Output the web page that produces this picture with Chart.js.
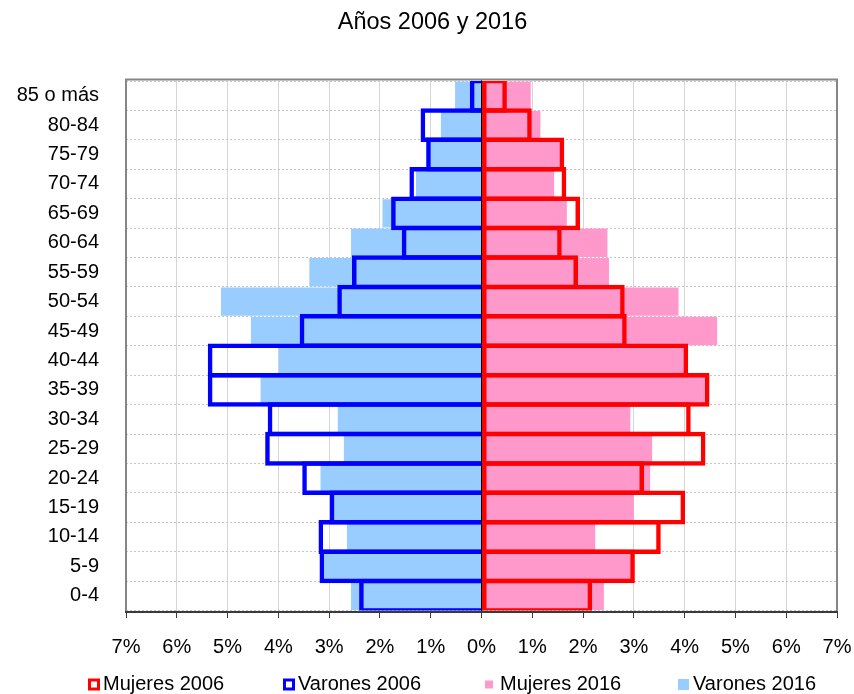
<!DOCTYPE html>
<html>
<head>
<meta charset="utf-8">
<script src="https://cdn.jsdelivr.net/npm/chart.js@4/dist/chart.umd.min.js"></script>
<style>
  html, body { margin: 0; padding: 0; background: #ffffff; }
  #wrap { width: 854px; height: 694px; }
</style>
</head>
<body>
<div id="wrap"><canvas id="c" width="854" height="694"></canvas></div>
<script>
// ---- data (percent of population), top row first ----
const categories = ["85 o más","80-84","75-79","70-74","65-69","60-64","55-59","50-54","45-49","40-44","35-39","30-34","25-29","20-24","15-19","10-14","5-9","0-4"];
const mujeres2006 = [0.50, 0.99, 1.63, 1.67, 1.94, 1.58, 1.90, 2.82, 2.86, 4.07, 4.49, 4.12, 4.41, 3.20, 4.01, 3.53, 3.02, 2.18];
const varones2006 = [-0.23, -1.20, -1.09, -1.42, -1.78, -1.57, -2.55, -2.84, -3.58, -5.39, -5.39, -4.21, -4.26, -3.53, -2.99, -3.21, -3.19, -2.41];
const mujeres2016 = [0.97, 1.16, 1.58, 1.43, 1.68, 2.48, 2.51, 3.88, 4.64, 3.99, 4.44, 2.93, 3.36, 3.32, 3.00, 2.24, 2.94, 2.41];
const varones2016 = [-0.52, -0.80, -1.05, -1.29, -1.95, -2.57, -3.39, -5.13, -4.54, -3.99, -4.35, -2.83, -2.71, -3.17, -2.94, -2.65, -3.15, -2.57];
const xTickMin = -7;
const xTickMax = 7;
const titleText = "Años 2006 y 2016";

const FONT = "'Liberation Sans', Arial, sans-serif";
Chart.defaults.font.family = FONT;

const OUTLINE_W = 4.5;
const outlinePct = 1 + OUTLINE_W / 29.4;

const datasets = [
  { label: "Mujeres 2006", data: mujeres2006, backgroundColor: "rgba(0,0,0,0)", borderColor: "#FF0000",
    borderWidth: OUTLINE_W, borderSkipped: false, grouped: false, order: 0,
    barPercentage: outlinePct, categoryPercentage: 1, _legend: {hollow: true, size: 12} },
  { label: "Varones 2006", data: varones2006, backgroundColor: "rgba(0,0,0,0)", borderColor: "#0000FF",
    borderWidth: OUTLINE_W, borderSkipped: 'start', grouped: false, order: 0,
    barPercentage: outlinePct, categoryPercentage: 1, _legend: {hollow: true, size: 12} },
  { label: "Mujeres 2016", data: mujeres2016, backgroundColor: "#FF99CC", borderWidth: 0,
    grouped: false, order: 1, barPercentage: 0.965, categoryPercentage: 1, _legend: {hollow: false, size: 8} },
  { label: "Varones 2016", data: varones2016, backgroundColor: "#99CCFF", borderWidth: 0,
    grouped: false, order: 1, barPercentage: 0.965, categoryPercentage: 1, _legend: {hollow: false, size: 11} }
];

const LEGEND_X = [88, 283, 485, 678];

const decor = {
  id: 'decor',
  afterDatasetsDraw(chart) {
    const ctx = chart.ctx;
    const a = chart.chartArea;
    const x0 = chart.scales.x.getPixelForValue(0);
    ctx.save();
    // zero line
    ctx.strokeStyle = '#000000';
    ctx.lineWidth = 1;
    ctx.beginPath();
    ctx.moveTo(Math.round(x0) - 0.5, a.top - 2);
    ctx.lineTo(Math.round(x0) - 0.5, a.bottom + 1.5);
    ctx.stroke();
    // plot frame
    const top = a.top - 1.5, bottom = a.bottom + 1.5;
    ctx.strokeStyle = '#868686';
    ctx.lineWidth = 2;
    ctx.beginPath();
    ctx.moveTo(a.left, bottom);
    ctx.lineTo(a.left, top);
    ctx.lineTo(a.right, top);
    ctx.lineTo(a.right, bottom);
    ctx.stroke();
    ctx.strokeStyle = '#3a3a3a';
    ctx.beginPath();
    ctx.moveTo(a.left - 1, bottom);
    ctx.lineTo(a.right + 1, bottom);
    ctx.stroke();
    ctx.restore();
  },
  afterDraw(chart) {
    const ctx = chart.ctx;
    ctx.save();
    // title
    ctx.fillStyle = '#000000';
    ctx.font = "23.5px " + FONT;
    ctx.textAlign = 'center';
    ctx.textBaseline = 'middle';
    ctx.fillText(titleText, 432.5, 23);
    // legend
    ctx.font = "20px " + FONT;
    ctx.textAlign = 'left';
    const ly = 684.5;
    chart.data.datasets.forEach((ds, i) => {
      const x = LEGEND_X[i];
      const s = ds._legend.size;
      if (ds._legend.hollow) {
        ctx.strokeStyle = ds.borderColor;
        ctx.lineWidth = 3;
        ctx.strokeRect(x + 1.5, ly - s / 2 + 1.5, s - 3, s - 3);
      } else {
        ctx.fillStyle = ds.backgroundColor;
        ctx.fillRect(x, ly - s / 2, s, s);
      }
      ctx.fillStyle = '#000000';
      ctx.fillText(ds.label, x + 15, ly);
    });
    ctx.restore();
  }
};

new Chart(document.getElementById('c'), {
  type: 'bar',
  data: { labels: categories, datasets: datasets },
  options: {
    responsive: false,
    animation: false,
    indexAxis: 'y',
    layout: { padding: { left: 0, right: 17, top: 81, bottom: 40 } },
    plugins: {
      legend: { display: false },
      title: { display: false },
      tooltip: { enabled: false }
    },
    scales: {
      x: {
        min: xTickMin, max: xTickMax,
        ticks: {
          stepSize: 1, autoSkip: false, maxRotation: 0, color: '#000000',
          font: { size: 20 }, padding: 17,
          callback: (v) => Math.abs(v) + '%'
        },
        grid: { color: '#d6d6d6', lineWidth: 1, tickColor: '#3a3a3a', tickLength: 7.5 },
        border: { display: false },
        afterFit: (s) => { s.height = 43.5; s.paddingLeft = 0; s.paddingRight = 0; }
      },
      y: {
        ticks: { autoSkip: false, color: '#000000', font: { size: 20 }, padding: 27 },
        grid: { color: '#c4c4c4', lineWidth: 1, drawTicks: false },
        border: { display: false, dash: [2, 2] },
        afterFit: (s) => { s.width = 126; }
      }
    }
  },
  plugins: [decor]
});
</script>
</body>
</html>
